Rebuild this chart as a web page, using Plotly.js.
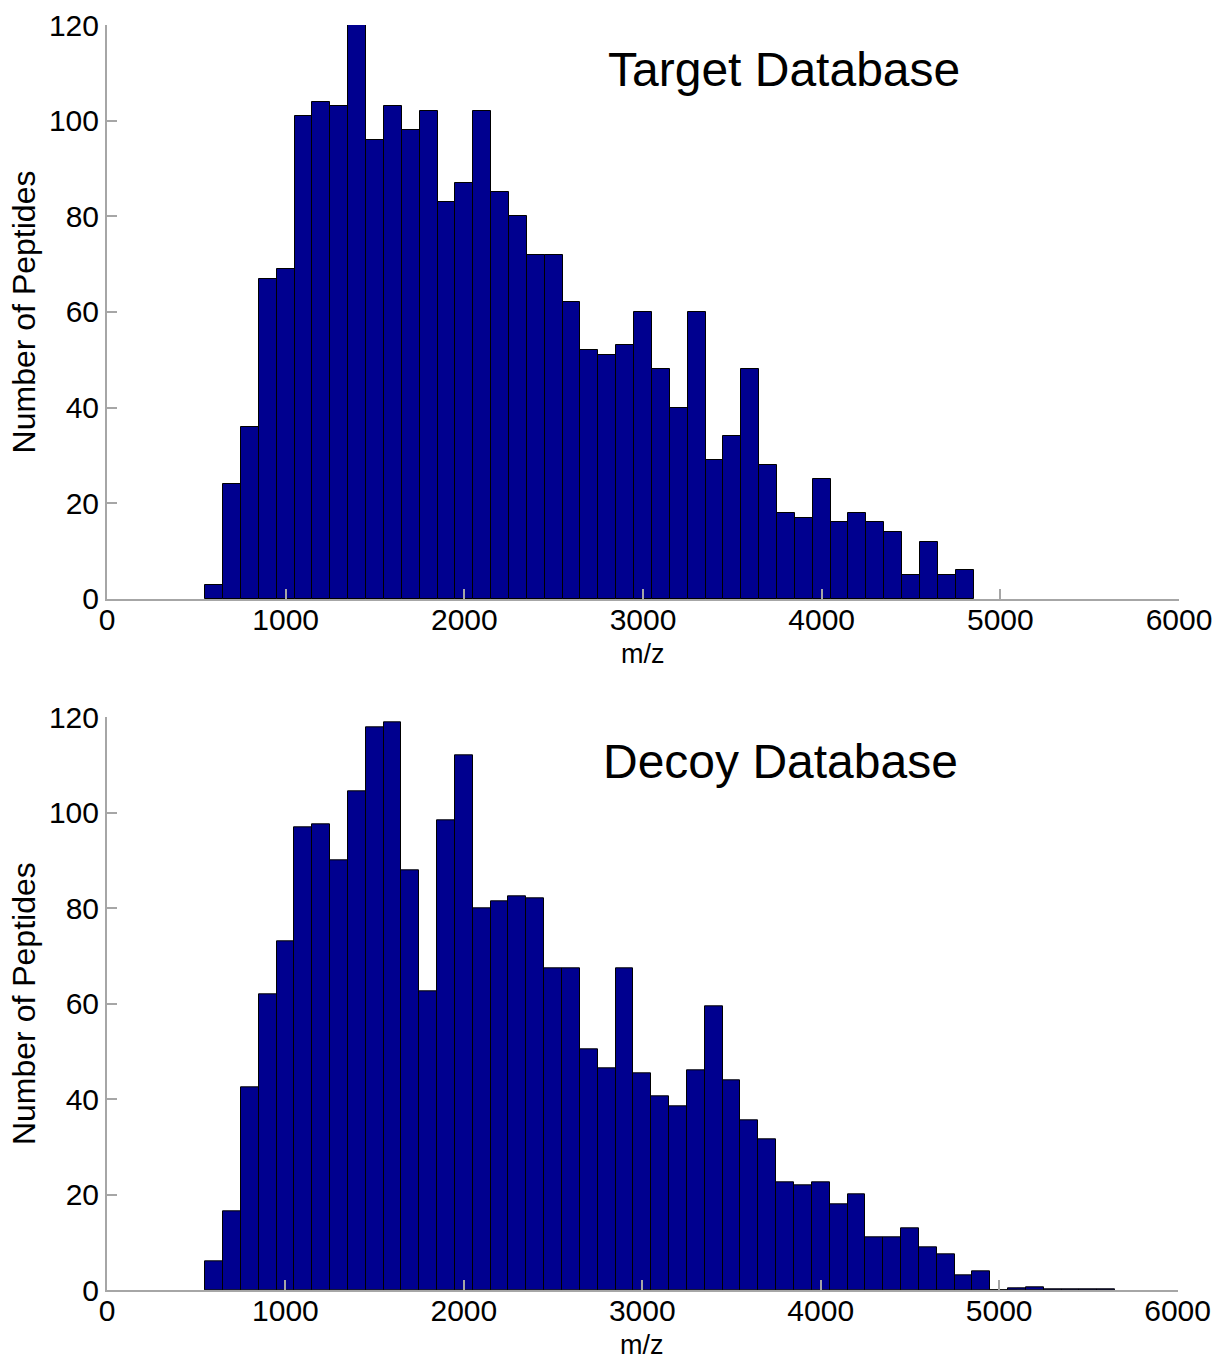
<!DOCTYPE html>
<html>
<head>
<meta charset="utf-8">
<script src="https://cdn.plot.ly/plotly-3.0.1.min.js"></script>
<style>
  html, body { margin: 0; padding: 0; background: #ffffff; }
  #chart { width: 1219px; height: 1361px; }
</style>
</head>
<body>
<div id="chart"></div>
<script>
// ---- Data ----
const targetBinCenters = [600, 700, 800, 900, 1000, 1100, 1200, 1300, 1400, 1500,
  1600, 1700, 1800, 1900, 2000, 2100, 2200, 2300, 2400, 2500,
  2600, 2700, 2800, 2900, 3000, 3100, 3200, 3300, 3400, 3500,
  3600, 3700, 3800, 3900, 4000, 4100, 4200, 4300, 4400, 4500,
  4600, 4700, 4800];
const targetCounts = [3, 24, 36, 67, 69, 101, 104, 103, 120, 96,
  103, 98, 102, 83, 87, 102, 85, 80, 72, 72,
  62, 52, 51, 53, 60, 48, 40, 60, 29, 34,
  48, 28, 18, 17, 25, 16, 18, 16, 14, 5,
  12, 5, 6];

const decoyBinCenters = [600, 700, 800, 900, 1000, 1100, 1200, 1300, 1400, 1500,
  1600, 1700, 1800, 1900, 2000, 2100, 2200, 2300, 2400, 2500,
  2600, 2700, 2800, 2900, 3000, 3100, 3200, 3300, 3400, 3500,
  3600, 3700, 3800, 3900, 4000, 4100, 4200, 4300, 4400, 4500,
  4600, 4700, 4800, 4900, 5000, 5100, 5200, 5300, 5400, 5500, 5600];
const decoyCounts = [6, 16.5, 42.5, 62, 73, 97, 97.5, 90, 104.5, 118,
  119, 88, 62.5, 98.5, 112, 80, 81.5, 82.5, 82, 67.5,
  67.5, 50.5, 46.5, 67.5, 45.5, 40.5, 38.5, 46, 59.5, 44,
  35.5, 31.5, 22.5, 22, 22.5, 18, 20, 11, 11, 13,
  9, 7.5, 3, 4, 0, 0.4, 0.6, 0.2, 0.2, 0.1, 0.1];

const binWidth = 100;
const xTickValues = [0, 1000, 2000, 3000, 4000, 5000, 6000];
const yTickValues = [0, 20, 40, 60, 80, 100, 120];
const panelLabels = ["Target Database", "Decoy Database"];
const xTitle = "m/z";
const yTitle = "Number of Peptides";

// ---- Styling ----
const FONT = "Liberation Sans, Arial, Helvetica, sans-serif";
const barColor = "#00008f";
const axisGray = "#a6a6a6";

function barTrace(x, y, xa, ya) {
  return {
    type: "bar",
    x: x,
    y: y,
    width: x.map(() => binWidth),
    xaxis: xa,
    yaxis: ya,
    marker: { color: barColor, line: { color: "#000000", width: 1 } },
    hoverinfo: "x+y",
    showlegend: false
  };
}

const traces = [
  barTrace(targetBinCenters, targetCounts, "x", "y"),
  barTrace(decoyBinCenters, decoyCounts, "x2", "y2")
];

function xAxis(domain, anchor) {
  return {
    domain: domain,
    anchor: anchor,
    range: [0, 6000],
    tickmode: "array",
    tickvals: xTickValues,
    ticktext: xTickValues.map(String),
    ticks: "inside",
    ticklen: 10,
    tickwidth: 1.5,
    tickcolor: axisGray,
    ticklabelstandoff: -7,
    showline: true,
    linecolor: axisGray,
    linewidth: 2,
    showgrid: false,
    zeroline: false,
    tickfont: { family: FONT, size: 30, color: "#000000" },
    fixedrange: true
  };
}

function yAxis(domain, anchor) {
  return {
    domain: domain,
    anchor: anchor,
    range: [0, 120],
    tickmode: "array",
    tickvals: yTickValues,
    ticktext: yTickValues.map(String),
    ticks: "inside",
    ticklen: 10,
    tickwidth: 1.5,
    tickcolor: axisGray,
    showline: true,
    linecolor: axisGray,
    linewidth: 2,
    showgrid: false,
    zeroline: false,
    tickfont: { family: FONT, size: 30, color: "#000000" },
    title: { text: yTitle, font: { family: FONT, size: 32, color: "#000000" }, standoff: 4 },
    fixedrange: true
  };
}

function xTitleAnnotation(xref, yref) {
  return {
    text: xTitle, xref: xref, yref: yref, x: 3000, y: 0,
    xanchor: "center", yanchor: "middle", yshift: -55, showarrow: false,
    borderpad: 0,
    font: { family: FONT, size: 27, color: "#000000" }
  };
}

const layout = {
  width: 1219,
  height: 1361,
  margin: { l: 107, r: 40, t: 25, b: 65, pad: 0 },
  paper_bgcolor: "#ffffff",
  plot_bgcolor: "#ffffff",
  bargap: 0,
  showlegend: false,
  xaxis: xAxis([0, 1], "y"),
  yaxis: yAxis([0.5484, 1], "x"),
  xaxis2: xAxis([0, 0.9987], "y2"),
  yaxis2: yAxis([0.0047, 0.4553], "x2"),
  annotations: [
    {
      text: panelLabels[0], xref: "x", yref: "y", x: 3790, y: 110.6,
      xanchor: "center", yanchor: "middle", showarrow: false,
      font: { family: FONT, size: 48, color: "#000000" }
    },
    {
      text: panelLabels[1], xref: "x2", yref: "y2", x: 3773, y: 110.8,
      xanchor: "center", yanchor: "middle", showarrow: false,
      font: { family: FONT, size: 48, color: "#000000" }
    },
    xTitleAnnotation("x", "y"),
    xTitleAnnotation("x2", "y2")
  ]
};

Plotly.newPlot("chart", traces, layout, { displayModeBar: false });
</script>
</body>
</html>
